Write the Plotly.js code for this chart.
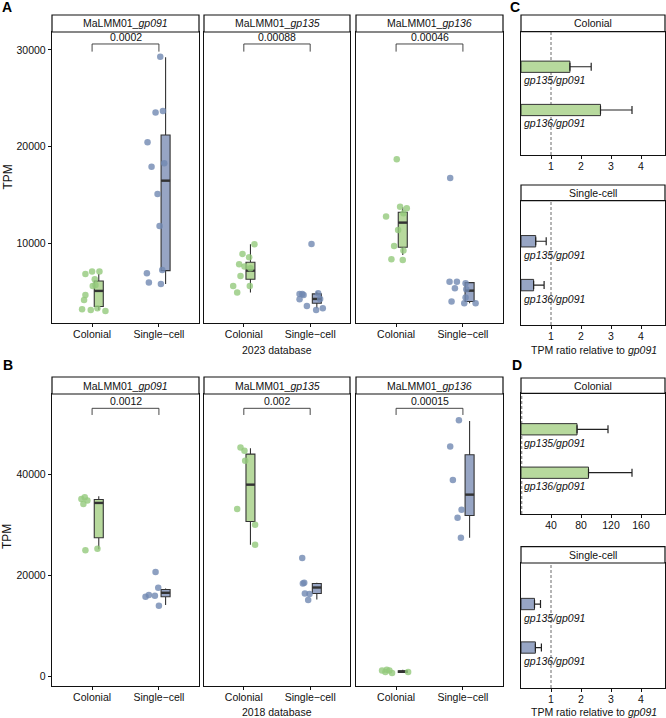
<!DOCTYPE html>
<html>
<head>
<meta charset="utf-8">
<script src="https://cdn.plot.ly/plotly-3.0.1.min.js"></script>
<style>
  html, body { margin: 0; padding: 0; background: #fff; }
  #chart { width: 666px; height: 718px; }
</style>
</head>
<body>
<div id="chart"></div>
<script>
// ---------- data ----------
const groups = ['Colonial', 'Single\u2212cell'];
const genes = ['gp091', 'gp135', 'gp136'];

// 2023 database: TPM per sample, horizontal jitter per sample, box stats [lower, q1, median, q3, upper]
const tpm2023_gp091_col = [6830, 7070, 7070, 6280, 5590, 4660, 4140, 3170, 3100, 3280, 3000, 5690];
const jit2023_gp091_col = [-0.10, 0.00, 0.11, 0.04, 0.01, -0.10, -0.12, -0.15, -0.02, 0.08, 0.20, 0.05];
const box2023_gp091_col = [3100, 3450, 5070, 6100, 6830];
const tpm2023_gp091_sc = [29310, 23520, 23690, 20450, 18280, 17930, 15100, 11790, 6900, 7240, 5930, 5790];
const jit2023_gp091_sc = [0.02, -0.05, 0.06, -0.17, 0.08, -0.11, -0.02, 0.01, -0.18, 0.05, -0.15, 0.03];
const box2023_gp091_sc = [5790, 7170, 16480, 21210, 29240];

const tpm2023_gp135_col = [9900, 8900, 8550, 7830, 7590, 7410, 6620, 5590, 5590, 4900];
const jit2023_gp135_col = [0.16, -0.02, 0.08, -0.07, 0.01, 0.10, -0.05, 0.09, -0.16, -0.10];
const box2023_gp135_col = [4900, 6280, 7170, 8030, 9900];
const tpm2023_gp135_sc = [9930, 4760, 4760, 4660, 4200, 3500, 4830, 4240, 3100, 3280];
const jit2023_gp135_sc = [0.02, -0.16, -0.12, -0.10, -0.16, -0.05, 0.12, 0.15, 0.09, 0.19];
const box2023_gp135_sc = [3280, 3790, 4240, 4760, 5000];

const tpm2023_gp136_col = [18690, 12760, 13790, 13620, 13100, 11380, 9720, 9240, 8340, 8280];
const jit2023_gp136_col = [0.01, -0.15, 0.06, 0.16, 0.11, 0.03, -0.03, 0.11, -0.07, 0.10];
const box2023_gp136_col = [8790, 9590, 12140, 13210, 13720];
const tpm2023_gp136_sc = [16760, 6030, 6030, 5340, 5860, 5240, 4380, 3970, 3790, 3790];
const jit2023_gp136_sc = [-0.19, -0.20, -0.09, -0.12, 0.04, 0.05, 0.04, -0.17, 0.02, 0.19];
const box2023_gp136_sc = [3790, 3970, 5100, 5930, 6000];

// 2018 database
const tpm2018_gp091_col = [35200, 35530, 34870, 34210, 25000, 25330];
const jit2018_gp091_col = [-0.16, -0.11, -0.07, -0.13, -0.10, 0.08];
const box2018_gp091_col = [25200, 27500, 34400, 35070, 35720];
const tpm2018_gp091_sc = [20720, 17570, 15790, 16120, 15990, 14000];
const jit2018_gp091_sc = [-0.05, -0.01, -0.20, -0.15, -0.06, 0.00];
const box2018_gp091_sc = [14140, 15790, 16580, 17240, 17430];

const tpm2018_gp135_col = [45400, 44740, 42760, 33220, 30060, 26120];
const jit2018_gp135_col = [-0.05, 0.01, 0.02, -0.10, 0.17, 0.17];
const box2018_gp135_col = [26120, 30720, 38030, 44080, 45260];
const tpm2018_gp135_sc = [23490, 18550, 16450, 16320, 15130, 18420];
const jit2018_gp135_sc = [-0.12, -0.09, -0.08, -0.01, -0.03, -0.11];
const box2018_gp135_sc = [15260, 16450, 17630, 18420, 18550];

const tpm2018_gp136_col = [1180, 860, 1180, 660, 1300, 860];
const jit2018_gp136_col = [-0.21, -0.16, -0.10, -0.06, -0.14, 0.18];
const box2018_gp136_col = [660, 800, 950, 1100, 1300];
const tpm2018_gp136_sc = [50790, 45590, 38950, 33030, 31450, 27500];
const jit2018_gp136_sc = [-0.06, -0.19, -0.15, -0.02, -0.08, -0.03];
const box2018_gp136_sc = [27500, 31910, 36050, 43950, 50660];

// Wilcoxon p-values and bracket heights [tip, top]
const pvals2023 = ['0.0002', '0.00088', '0.00046'];
const pvals2018 = ['0.0012', '0.002', '0.00015'];
const bracket2023 = [29830, 30620];
const bracket2018 = [51840, 53160];

// TPM ratios relative to gp091 (mean, sd)
const ratioLabels = ['gp135/gp091', 'gp136/gp091'];
const ratio2023_col = [1.63, 2.65];
const ratio2023_col_sd = [0.71, 1.05];
const ratio2023_sc = [0.49, 0.42];
const ratio2023_sc_sd = [0.35, 0.35];
const ratio2018_col = [74.7, 90.0];
const ratio2018_col_sd = [41.3, 58.0];
const ratio2018_sc = [0.45, 0.48];
const ratio2018_sc_sd = [0.20, 0.20];

// ---------- styling / geometry ----------
const FONT = 'Liberation Sans, Arial, Helvetica, sans-serif';
const W = 666, H = 718;
const fx = p => p / W;
const fy = p => 1 - p / H;
const GREEN_PT = '#93c97c', BLUE_PT = '#7088b2';
const GREEN_FILL = '#b7d99d', BLUE_FILL = '#97a5c4';
const EDGE = '#333333', INK = '#111111';
const BOX_SHIFT = 0.1, BOX_W = 0.135;

const traces = [], shapes = [], annotations = [];
const layout = {
  width: W, height: H,
  margin: { l: 0, r: 0, t: 0, b: 0 },
  paper_bgcolor: '#fff', plot_bgcolor: '#fff',
  showlegend: false, hovermode: false,
  font: { family: FONT, size: 10.5, color: INK }
};

const axisBase = {
  showline: true, mirror: true, linecolor: INK, linewidth: 1.2,
  showgrid: false, zeroline: false,
  ticks: 'outside', ticklen: 3, tickwidth: 1, tickcolor: INK,
  tickfont: { family: FONT, size: 10.5, color: INK },
  fixedrange: true
};

const suffix = i => (i === 1 ? '' : String(i));

function strip(xPx, yPx, text) {
  shapes.push({
    type: 'rect', xref: 'paper', yref: 'paper',
    x0: fx(xPx[0]), x1: fx(xPx[1]), y0: fy(yPx[1]), y1: fy(yPx[0]),
    line: { color: INK, width: 1.2 }, fillcolor: '#fff', layer: 'above'
  });
  annotations.push({
    xref: 'paper', yref: 'paper', x: fx((xPx[0] + xPx[1]) / 2), y: fy((yPx[0] + yPx[1]) / 2),
    text: text, showarrow: false, xanchor: 'center', yanchor: 'middle',
    font: { family: FONT, size: 10.5, color: INK }
  });
}

function boxPanel(i, xPx, row, yRange, yTicks, showY, gene, pval, bracket, sets) {
  const s = suffix(i), xr = 'x' + s, yr = 'y' + s;
  layout['xaxis' + s] = Object.assign({}, axisBase, {
    domain: [fx(xPx[0]), fx(xPx[1])], anchor: yr,
    range: [-0.6, 1.6], tickvals: [0, 1], ticktext: groups, ticklabelstandoff: -2
  });
  layout['yaxis' + s] = Object.assign({}, axisBase, {
    domain: [fy(row.plot[1]), fy(row.plot[0])], anchor: xr,
    range: yRange, tickvals: yTicks, tickformat: 'd',
    showticklabels: showY, ticks: showY ? 'outside' : ''
  });

  sets.forEach((set, g) => {
    const [vals, jit, st] = set;
    const fill = g === 0 ? GREEN_FILL : BLUE_FILL;
    const pt = g === 0 ? GREEN_PT : BLUE_PT;
    const xc = g + BOX_SHIFT;
    traces.push({
      type: 'box', xaxis: xr, yaxis: yr, x: [xc],
      lowerfence: [st[0]], q1: [st[1]], median: [st[2]], q3: [st[3]], upperfence: [st[4]],
      width: BOX_W, fillcolor: fill, line: { color: EDGE, width: 1.1 },
      whiskerwidth: 0, boxpoints: false, hoverinfo: 'skip'
    });
    traces.push({
      type: 'scatter', mode: 'lines', xaxis: xr, yaxis: yr,
      x: [xc - BOX_W / 2, xc + BOX_W / 2], y: [st[2], st[2]],
      line: { color: EDGE, width: 2.4 }, hoverinfo: 'skip'
    });
    traces.push({
      type: 'scatter', mode: 'markers', xaxis: xr, yaxis: yr,
      x: vals.map((v, k) => g + jit[k]), y: vals,
      marker: { size: 6.5, color: pt, opacity: 0.8 }, hoverinfo: 'skip'
    });
  });

  // significance bracket
  traces.push({
    type: 'scatter', mode: 'lines', xaxis: xr, yaxis: yr,
    x: [0, 0, 1, 1], y: [bracket[0], bracket[1], bracket[1], bracket[0]],
    line: { color: EDGE, width: 0.9 }, hoverinfo: 'skip'
  });
  annotations.push({
    xref: xr, yref: yr, x: 0.5, y: bracket[1], yanchor: 'bottom', yshift: -1,
    text: pval, showarrow: false, font: { family: FONT, size: 10.5, color: INK }
  });

  strip(xPx, row.strip, 'MaLMM01_<i>' + gene + '</i>');
}

function ratioPanel(i, geo, xRange, xTicks, vals, sds, fill, stripText) {
  const s = suffix(i), xr = 'x' + s, yr = 'y' + s;
  const xPx = [521, 665];
  layout['xaxis' + s] = Object.assign({}, axisBase, {
    domain: [fx(xPx[0]), fx(xPx[1])], anchor: yr,
    range: xRange, tickvals: xTicks, ticklabelstandoff: -2
  });
  layout['yaxis' + s] = Object.assign({}, axisBase, {
    domain: [fy(geo.plot[1]), fy(geo.plot[0])], anchor: xr,
    range: geo.yRange, showticklabels: false, ticks: ''
  });
  shapes.push({
    type: 'line', xref: xr, yref: yr + ' domain', x0: 1, x1: 1, y0: 0, y1: 1,
    line: { color: '#444', width: 0.8, dash: '3px,2px' }, layer: 'below'
  });
  traces.push({
    type: 'bar', orientation: 'h', xaxis: xr, yaxis: yr,
    x: vals, y: [1, 2], width: 0.26,
    marker: { color: fill, line: { color: EDGE, width: 1 } },
    error_x: { type: 'data', symmetric: false, array: sds, arrayminus: [0, 0],
               color: '#222', thickness: 1.2, width: 4 },
    hoverinfo: 'skip'
  });
  ratioLabels.forEach((lab, k) => {
    annotations.push({
      xref: xr, yref: yr, x: xRange[0], y: k + 1 + 0.31, xanchor: 'left', yanchor: 'middle',
      xshift: 1, text: '<i>' + lab + '</i>', showarrow: false,
      font: { family: FONT, size: 10.5, color: INK }
    });
  });
  strip(xPx, geo.strip, stripText);
}

// ---------- panels ----------
const colsPx = [[52, 199], [204, 350], [356, 503]];
const rowA = { strip: [15, 32], plot: [32, 323] };
const rowB = { strip: [377, 394], plot: [394, 686] };
const rangeA = [1750, 31860], ticksA = [10000, 20000, 30000];
const rangeB = [-1900, 56000], ticksB = [0, 20000, 40000];

const sets2023 = [
  [[tpm2023_gp091_col, jit2023_gp091_col, box2023_gp091_col], [tpm2023_gp091_sc, jit2023_gp091_sc, box2023_gp091_sc]],
  [[tpm2023_gp135_col, jit2023_gp135_col, box2023_gp135_col], [tpm2023_gp135_sc, jit2023_gp135_sc, box2023_gp135_sc]],
  [[tpm2023_gp136_col, jit2023_gp136_col, box2023_gp136_col], [tpm2023_gp136_sc, jit2023_gp136_sc, box2023_gp136_sc]]
];
const sets2018 = [
  [[tpm2018_gp091_col, jit2018_gp091_col, box2018_gp091_col], [tpm2018_gp091_sc, jit2018_gp091_sc, box2018_gp091_sc]],
  [[tpm2018_gp135_col, jit2018_gp135_col, box2018_gp135_col], [tpm2018_gp135_sc, jit2018_gp135_sc, box2018_gp135_sc]],
  [[tpm2018_gp136_col, jit2018_gp136_col, box2018_gp136_col], [tpm2018_gp136_sc, jit2018_gp136_sc, box2018_gp136_sc]]
];

genes.forEach((g, k) => {
  boxPanel(k + 1, colsPx[k], rowA, rangeA, ticksA, k === 0, g, pvals2023[k], bracket2023, sets2023[k]);
  boxPanel(k + 4, colsPx[k], rowB, rangeB, ticksB, k === 0, g, pvals2018[k], bracket2018, sets2018[k]);
});

ratioPanel(7, { strip: [15, 31.7], plot: [31.7, 155], yRange: [3.04, 0.19] },
  [0, 4.8], [1, 2, 3, 4], ratio2023_col, ratio2023_col_sd, GREEN_FILL, 'Colonial');
ratioPanel(8, { strip: [185, 200.7], plot: [200.7, 325], yRange: [2.91, 0.075] },
  [0, 4.8], [1, 2, 3, 4], ratio2023_sc, ratio2023_sc_sd, BLUE_FILL, 'Single-cell');
ratioPanel(9, { strip: [378, 393.3], plot: [393.3, 514], yRange: [2.95, 0.172] },
  [0, 192], [40, 80, 120, 160], ratio2018_col, ratio2018_col_sd, GREEN_FILL, 'Colonial');
ratioPanel(10, { strip: [546.7, 563], plot: [563, 688], yRange: [2.93, 0.057] },
  [0, 4.8], [1, 2, 3, 4], ratio2018_sc, ratio2018_sc_sd, BLUE_FILL, 'Single-cell');

// ---------- titles and panel letters ----------
function label(text, xp, yp, opts) {
  annotations.push(Object.assign({
    xref: 'paper', yref: 'paper', x: fx(xp), y: fy(yp), text: text, showarrow: false,
    xanchor: 'center', yanchor: 'middle', font: { family: FONT, size: 10.5, color: INK }
  }, opts || {}));
}
label('TPM', 7, 177.5, { textangle: -90, font: { family: FONT, size: 12, color: INK } });
label('TPM', 7, 537, { textangle: -90, font: { family: FONT, size: 12, color: INK } });
label('2023 database', 277, 349.5);
label('2018 database', 277, 712);
label('TPM ratio relative to <i>gp091</i>', 594, 349.5);
label('TPM ratio relative to <i>gp091</i>', 594, 712);
const letterFont = { family: FONT, size: 14, color: '#000' };
label('<b>A</b>', 7, 7, { font: letterFont });
label('<b>B</b>', 8, 365, { font: letterFont });
label('<b>C</b>', 515, 7, { font: letterFont });
label('<b>D</b>', 517, 365, { font: letterFont });

layout.shapes = shapes;
layout.annotations = annotations;

Plotly.newPlot('chart', traces, layout, { staticPlot: true, displayModeBar: false });
</script>
</body>
</html>
